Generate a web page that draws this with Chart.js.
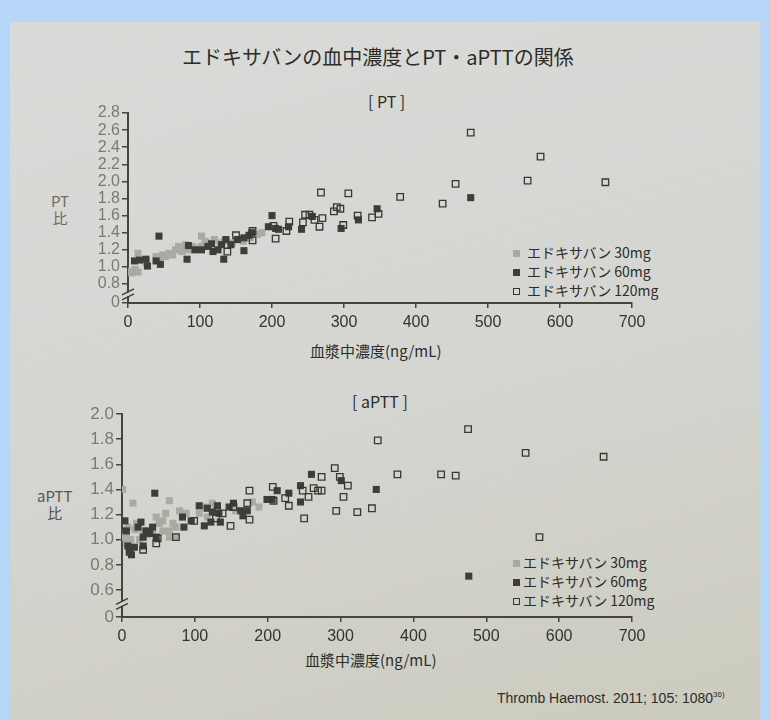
<!DOCTYPE html>
<html>
<head>
<meta charset="utf-8">
<script src="https://cdn.jsdelivr.net/npm/chart.js@4.4.1/dist/chart.umd.min.js"></script>
<style>
body { margin: 0; width: 770px; height: 720px; background: #b6d6f8; position: relative; overflow: hidden; font-family: "Noto Sans CJK JP", sans-serif; }
#page { position: absolute; left: 10px; top: 22px; width: 750px; height: 698px;
  background: linear-gradient(165deg, #dadbd8 0%, #d5d6d2 50%, #cbcbbe 100%); }
.t { position: absolute; white-space: nowrap; color: #2c2c28; line-height: 1; }
canvas { position: absolute; }
.leg { position: absolute; font-size: 14px; line-height: 19px; color: #2c2c28; white-space: nowrap; }
.leg span.m { display: inline-block; width: 7px; height: 7px; margin-right: 7px; vertical-align: 1px; box-sizing: border-box; }
.m30 { background: #a9a9a2; }
.m60 { background: #3d3d3a; }
.m120 { border: 1.4px solid #38382f; }
</style>
</head>
<body>
<div id="page"></div>

<div class="t" style="left:182px;top:47px;font-size:20px;">エドキサバンの血中濃度とPT・aPTTの関係</div>
<div class="t" style="left:368px;top:93px;font-size:16px;">[ PT ]</div>
<div class="t" style="left:352px;top:393px;font-size:16px;">[ aPTT ]</div>

<div class="t" style="left:51px;top:192px;font-size:15px;color:#6e6e66;text-align:center;line-height:17px;">PT<br>比</div>
<div class="t" style="left:37px;top:487px;font-size:15px;color:#55554d;text-align:center;line-height:17px;">aPTT<br>比</div>

<div class="t" style="left:310px;top:343px;font-size:15px;">血漿中濃度(ng/mL)</div>
<div class="t" style="left:305px;top:652px;font-size:15px;">血漿中濃度(ng/mL)</div>

<div class="t" style="left:497px;top:691px;font-size:14px;font-family:'Liberation Sans Narrow','Liberation Sans',sans-serif;">Thromb Haemost. 2011; 105: 1080<sup style="font-size:8px;">36)</sup></div>

<div class="leg" style="left:513px;top:243px;">
  <div><span class="m m30"></span>エドキサバン 30mg</div>
  <div><span class="m m60"></span>エドキサバン 60mg</div>
  <div><span class="m m120"></span>エドキサバン 120mg</div>
</div>
<div class="leg" style="left:513px;top:553px;">
  <div><span class="m m30" style="margin-right:3px;"></span>エドキサバン 30mg</div>
  <div><span class="m m60" style="margin-right:3px;"></span>エドキサバン 60mg</div>
  <div><span class="m m120" style="margin-right:3px;"></span>エドキサバン 120mg</div>
</div>

<canvas id="ptChart" width="620" height="240" style="left:75px;top:100px;"></canvas>
<canvas id="apttChart" width="625" height="250" style="left:70px;top:400px;"></canvas>

<script>
// x axis
const xTickLabels = ['0', '100', '200', '300', '400', '500', '600', '700'];

// PT ratio vs plasma concentration
const ptTickLabels = ['0', '0.8', '1.0', '1.2', '1.4', '1.6', '1.8', '2.0', '2.2', '2.4', '2.6', '2.8'];
const pt30 = [[0,0.95],[5,0.93],[10,0.97],[14,1.16],[14,0.94],[25,1.05],[39,1.12],[43,1.09],[48,1.14],[52,1.12],
  [57,1.16],[62,1.14],[66,1.2],[70,1.24],[75,1.18],[80,1.26],[84,1.2],[89,1.24],[95,1.22],[102,1.36],[102,1.24],
  [107,1.3],[112,1.26],[116,1.28],[120,1.32],[128,1.28],[134,1.3],[145,1.28],[152,1.32],[160,1.3],[170,1.34],
  [180,1.38],[186,1.4]];
const pt60 = [[9,1.07],[16,1.08],[25,1.09],[27,1.01],[39,1.07],[43,1.36],[45,1.03],[82,1.09],[84,1.25],[93,1.2],
  [102,1.2],[111,1.24],[116,1.27],[118,1.18],[125,1.2],[130,1.26],[133,1.09],[136,1.32],[143,1.26],[152,1.32],
  [161,1.19],[161,1.34],[168,1.37],[172,1.4],[195,1.47],[200,1.6],[205,1.45],[209,1.44],[223,1.47],[241,1.44],
  [256,1.59],[296,1.45],[320,1.55],[346,1.68],[476,1.81]];
const pt120 = [[138,1.18],[150,1.37],[173,1.42],[173,1.31],[202,1.48],[205,1.33],[220,1.42],[224,1.53],[243,1.52],
  [246,1.61],[252,1.61],[259,1.55],[266,1.47],[270,1.57],[268,1.87],[286,1.65],[290,1.7],[295,1.68],[299,1.49],
  [306,1.86],[319,1.6],[339,1.58],[348,1.62],[378,1.82],[437,1.74],[455,1.97],[476,2.57],[555,2.01],[573,2.29],
  [663,1.99]];

// aPTT ratio vs plasma concentration
const apttTickLabels = ['0', '0.6', '0.8', '1.0', '1.2', '1.4', '1.6', '1.8', '2.0'];
const aptt30 = [[1,1.4],[3,1.02],[6,1.05],[6,0.97],[8,1.1],[10,0.92],[12,1.0],[15,1.29],[18,1.08],[20,1.13],
  [24,1.0],[29,1.07],[35,1.04],[42,1.05],[47,1.18],[51,1.13],[56,1.15],[56,1.07],[60,1.21],[65,1.31],[65,1.07],
  [65,1.02],[70,1.13],[74,1.1],[74,1.02],[79,1.23],[88,1.21],[106,1.21],[115,1.26],[117,1.18],[124,1.29],
  [129,1.25],[156,1.23],[179,1.3],[188,1.26]];
const aptt60 = [[4,1.15],[6,1.07],[8,0.95],[10,0.9],[13,0.88],[17,0.94],[22,1.1],[26,1.14],[29,1.02],[29,0.95],
  [33,1.07],[38,1.05],[42,1.1],[45,1.37],[47,1.02],[83,1.18],[85,1.1],[95,1.15],[106,1.27],[113,1.11],[117,1.25],
  [122,1.14],[124,1.22],[131,1.27],[133,1.21],[135,1.14],[147,1.26],[153,1.29],[163,1.23],[166,1.19],[172,1.23],
  [199,1.32],[206,1.32],[213,1.39],[229,1.37],[245,1.43],[245,1.3],[260,1.52],[301,1.47],[349,1.4],[476,0.71]];
const aptt120 = [[29,0.92],[47,0.97],[49,1.01],[74,1.02],[99,1.15],[129,1.17],[138,1.21],[149,1.11],[153,1.26],
  [172,1.29],[175,1.39],[175,1.16],[207,1.42],[208,1.31],[224,1.33],[229,1.27],[248,1.39],[250,1.17],[256,1.34],
  [263,1.41],[269,1.39],[274,1.39],[274,1.5],[292,1.57],[294,1.23],[299,1.5],[304,1.34],[310,1.43],[323,1.22],
  [343,1.25],[351,1.79],[378,1.52],[438,1.52],[458,1.51],[475,1.88],[554,1.69],[573,1.02],[661,1.66]];

Chart.defaults.font.family = "'Liberation Sans', Arial, sans-serif";

// the broken part of the y axis, drawn as two slanted strokes
const axisBreak = {
    id: 'axisBreak',
    afterDraw(chart, args, opts) {
        var ctx = chart.ctx;
        var px = chart.chartArea.left;
        var py = chart.scales.y.getPixelForValue(opts.at);
        ctx.save();
        ctx.fillStyle = opts.bg;
        ctx.fillRect(px - 2, py - 2, 4, 4);
        ctx.strokeStyle = '#3e3e36';
        ctx.lineWidth = 1.4;
        [-2.5, 2.5].forEach(function(d) {
            ctx.beginPath();
            ctx.moveTo(px - 6, py + d + 3);
            ctx.lineTo(px + 6, py + d - 3);
            ctx.stroke();
        });
        ctx.restore();
    }
};

function toPoints(list) {
    return list.map(function(p) { return { x: p[0], y: p[1] }; });
}

function makeChart(id, s30, s60, s120, yLabels, yMin, yMax, box) {
    var yVals = yLabels.map(function(l) { return l === '0' ? yMin : parseFloat(l); });
    return new Chart(document.getElementById(id), {
        type: 'scatter',
        data: {
            datasets: [
                { label: 'エドキサバン 120mg', data: toPoints(s120), pointStyle: 'rect', pointRadius: 4.6,
                  backgroundColor: 'rgba(0,0,0,0)', borderColor: '#38382f', borderWidth: 1.3 },
                { label: 'エドキサバン 60mg', data: toPoints(s60), pointStyle: 'rect', pointRadius: 5,
                  backgroundColor: '#3d3d3a', borderColor: '#3d3d3a', borderWidth: 0 },
                { label: 'エドキサバン 30mg', data: toPoints(s30), pointStyle: 'rect', pointRadius: 5,
                  backgroundColor: '#aaaaa3', borderColor: '#aaaaa3', borderWidth: 0 }
            ]
        },
        options: {
            responsive: false,
            animation: false,
            devicePixelRatio: 1,
            layout: { padding: { top: box.top, right: box.right, left: 0, bottom: 0 } },
            plugins: {
                legend: { display: false },
                tooltip: { enabled: false },
                axisBreak: { at: box.breakAt, bg: '#d4d5d1' }
            },
            scales: {
                x: {
                    type: 'linear', min: 0, max: 700,
                    afterFit: function(scale) { scale.height = box.xh; },
                    afterBuildTicks: function(scale) {
                        scale.ticks = xTickLabels.map(function(l) { return { value: parseFloat(l) }; });
                    },
                    ticks: { color: '#33332e', font: { size: 16 }, padding: 5, autoSkip: false, maxRotation: 0,
                             callback: function(v, i) { return xTickLabels[i]; } },
                    grid: { drawOnChartArea: false, tickLength: 5, color: '#45453c', lineWidth: 1.5 },
                    border: { color: '#45453c', width: 2 }
                },
                y: {
                    type: 'linear', min: yMin, max: yMax,
                    afterFit: function(scale) { scale.width = box.yw; },
                    afterBuildTicks: function(scale) {
                        scale.ticks = yVals.map(function(v) { return { value: v }; });
                    },
                    ticks: { color: '#7a7a70', font: { size: box.yFont }, padding: 2, autoSkip: false,
                             callback: function(v, i) { return yLabels[i]; } },
                    grid: { drawOnChartArea: false, tickLength: 6, color: '#45453c', lineWidth: 1.5 },
                    border: { color: '#45453c', width: 2 }
                }
            }
        },
        plugins: [axisBreak]
    });
}

makeChart('ptChart', pt30, pt60, pt120, ptTickLabels, 0.578, 2.8,
    { top: 13, right: 63, yw: 53, xh: 37, breakAt: 0.68, yFont: 16 });
makeChart('apttChart', aptt30, aptt60, aptt120, apttTickLabels, 0.385, 2.0,
    { top: 14, right: 63, yw: 52, xh: 33, breakAt: 0.49, yFont: 17 });
</script>
</body>
</html>
